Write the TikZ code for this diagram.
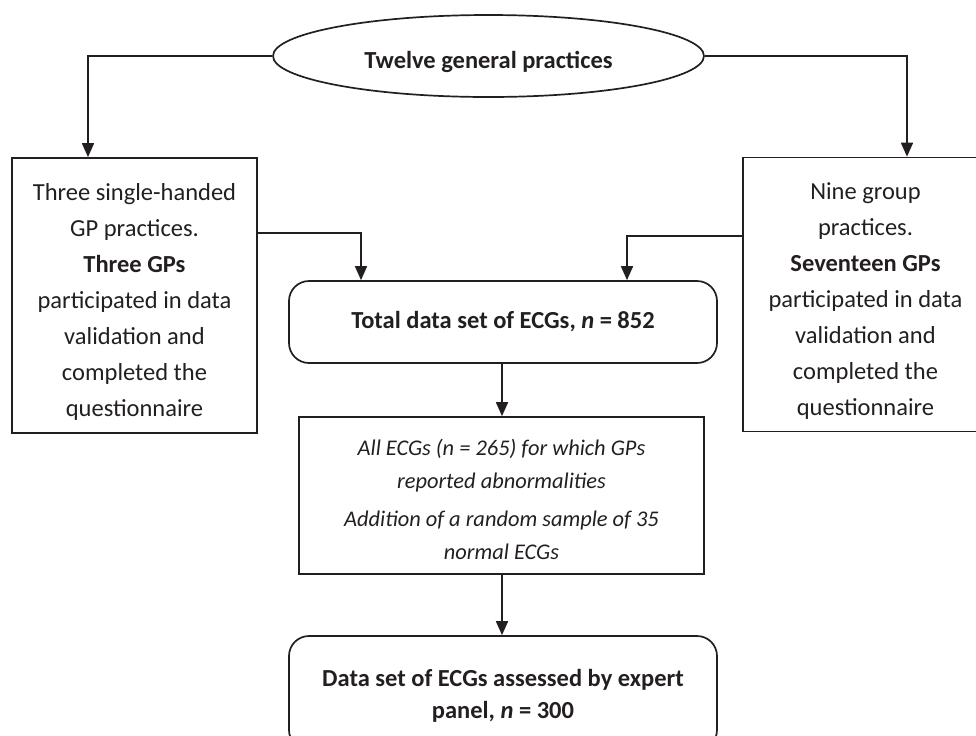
\documentclass[tikz,border=0pt]{standalone}
\usepackage{fontspec}
\setmainfont{Carlito}
\usetikzlibrary{shapes.geometric,arrows.meta}
\definecolor{ink}{RGB}{35,31,32}
\begin{document}
\begin{tikzpicture}[x=0.5pt,y=-0.5pt,
  every node/.style={text=ink,font=\fontsize{12.25}{18}\selectfont},
  box/.style={draw=ink,line width=0.85pt,rectangle,inner sep=0pt,align=center},
  rbox/.style={box,rounded corners=10pt},
  oval/.style={draw=ink,line width=0.85pt,ellipse,inner sep=0pt,align=center},
  arr/.style={draw=ink,line width=0.85pt,-{Triangle[length=7pt,width=6pt]}}
]
\useasboundingbox (0,0) rectangle (976,735);

\node[oval,minimum width=215.5pt,minimum height=41pt] (ell) at (488.5,56)
  {\rule{0pt}{14.5pt}\textbf{Twelve general practices}};

\node[box,minimum width=122.5pt,minimum height=137.5pt] (left) at (134.5,295.5)
  {\rule{0pt}{15pt}Three single-handed\\ GP practices.\\ \textbf{Three GPs}\\ participated in data\\ validation and\\ completed the\\ questionnaire};

\node[box,minimum width=122.5pt,minimum height=137pt] (right) at (865.5,294.5)
  {\rule{0pt}{15pt}Nine group\\ practices.\\ \textbf{Seventeen GPs}\\ participated in data\\ validation and\\ completed the\\ questionnaire};

\node[rbox,minimum width=214pt,minimum height=41pt] (total) at (503,322)
  {\textbf{Total data set of ECGs, \textit{n} = 852}};

\node[box,minimum width=202.5pt,minimum height=78.5pt,
      font=\fontsize{11.2}{16.5}\selectfont\itshape] (mid) at (501.5,495.5)
  {\rule{0pt}{12.5pt}All ECGs (n = 265) for which GPs\\ reported abnormalities\\[2.5pt] Addition of a random sample of 35\\ normal ECGs};

\node[rbox,minimum width=214pt,minimum height=57pt,
      font=\fontsize{12.25}{16}\selectfont] (bot) at (503,693)
  {\rule{0pt}{11pt}\textbf{Data set of ECGs assessed by expert}\\ \textbf{panel, \textit{n} = 300}};

\draw[arr] (ell.west) -| ([xshift=-23.25pt]left.north);
\draw[arr] (ell.east) -| ([xshift=20.75pt]right.north);
\draw[arr] ([yshift=31.25pt]left.east) -| ([xshift=-71pt]total.north);
\draw[arr] ([yshift=29.25pt]right.west) -| ([xshift=62pt]total.north);
\draw[arr] ([xshift=-0.5pt]total.south) -- ([xshift=-0.5pt]total.south |- mid.north);
\draw[arr] ([xshift=0.25pt]mid.south) -- ([xshift=0.25pt]mid.south |- bot.north);
\end{tikzpicture}
\end{document}
